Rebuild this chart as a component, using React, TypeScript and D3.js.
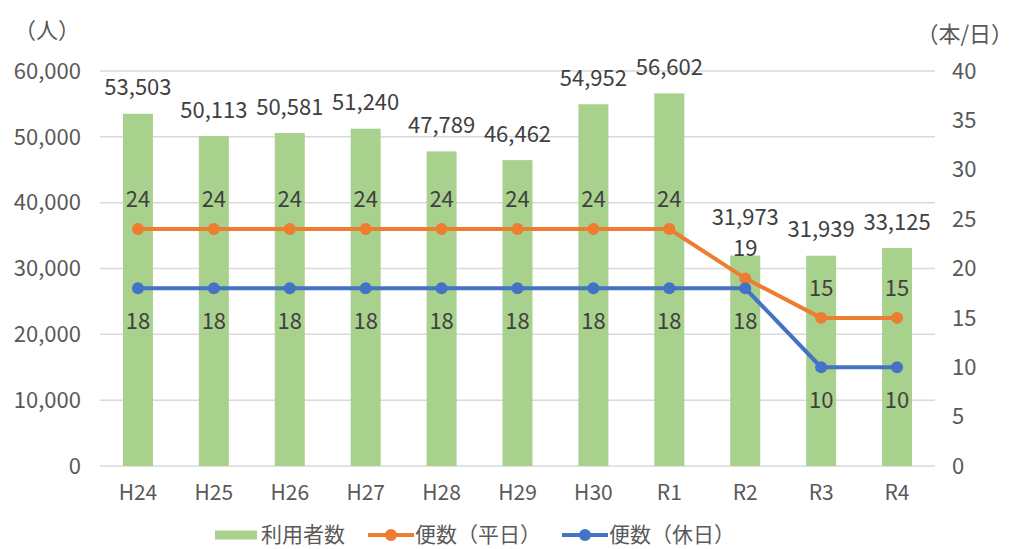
import React, { useEffect, useRef } from 'react'
import * as d3 from 'd3'

// fiscal years
const categories = ['H24', 'H25', 'H26', 'H27', 'H28', 'H29', 'H30', 'R1', 'R2', 'R3', 'R4']
// 利用者数 (people)
const riders = [53503, 50113, 50581, 51240, 47789, 46462, 54952, 56602, 31973, 31939, 33125]
// 便数 per day
const weekday = [24, 24, 24, 24, 24, 24, 24, 24, 19, 15, 15]
const holiday = [18, 18, 18, 18, 18, 18, 18, 18, 18, 10, 10]

const leftTicks = [0, 10000, 20000, 30000, 40000, 50000, 60000]
const rightTicks = [0, 5, 10, 15, 20, 25, 30, 35, 40]

const W = 1014
const H = 549
const FONT = '"Noto Sans CJK JP", "Noto Sans", sans-serif'
const TEXT = '#595959'
const LABEL = '#404040'
const GREEN = '#A9D18E'
const ORANGE = '#ED7D31'
const BLUE = '#4472C4'

const App = () => {
  const ref = useRef<SVGSVGElement>(null)

  useEffect(() => {
    const svg = d3.select(ref.current)
    svg.selectAll('*').remove()

    const left = 100
    const right = 935
    const top = 71
    const bottom = 466

    const x = d3.scaleBand().domain(categories).range([left, right])
    const yL = d3.scaleLinear().domain([0, 60000]).range([bottom, top])
    const yR = d3.scaleLinear().domain([0, 40]).range([bottom, top])
    const cx = (c: string) => (x(c) as number) + x.bandwidth() / 2
    const fmt = d3.format(',')
    const barW = 30

    // gridlines
    svg.append('g')
      .selectAll('line')
      .data(leftTicks)
      .join('line')
      .attr('x1', left)
      .attr('x2', right)
      .attr('y1', d => yL(d))
      .attr('y2', d => yL(d))
      .attr('stroke', '#d9d9d9')
      .attr('stroke-width', 1.5)

    // left axis labels
    svg.append('g')
      .selectAll('text')
      .data(leftTicks)
      .join('text')
      .attr('x', 81)
      .attr('y', d => yL(d))
      .attr('dy', '0.35em')
      .attr('text-anchor', 'end')
      .attr('fill', TEXT)
      .attr('font-size', 22)
      .text(d => fmt(d))

    // right axis labels
    svg.append('g')
      .selectAll('text')
      .data(rightTicks)
      .join('text')
      .attr('x', 952)
      .attr('y', d => yR(d))
      .attr('dy', '0.35em')
      .attr('text-anchor', 'start')
      .attr('fill', TEXT)
      .attr('font-size', 22)
      .text(d => d)

    // unit labels
    svg.append('text').attr('x', 14).attr('y', 38).attr('fill', TEXT).attr('font-size', 22).text('（人）')
    svg.append('text').attr('x', 1013).attr('y', 42).attr('text-anchor', 'end').attr('fill', TEXT).attr('font-size', 22).text('（本/日）')

    // category labels
    svg.append('g')
      .selectAll('text')
      .data(categories)
      .join('text')
      .attr('x', d => cx(d))
      .attr('y', 500)
      .attr('text-anchor', 'middle')
      .attr('fill', TEXT)
      .attr('font-size', 21)
      .text(d => d)

    // bars
    svg.append('g')
      .selectAll('rect')
      .data(riders)
      .join('rect')
      .attr('x', (d, i) => cx(categories[i]) - barW / 2)
      .attr('y', d => yL(d))
      .attr('width', barW)
      .attr('height', d => yL(0) - yL(d))
      .attr('fill', GREEN)

    // bar labels sit above the bar, and above the weekday label when they would collide
    svg.append('g')
      .selectAll('text')
      .data(riders)
      .join('text')
      .attr('x', (d, i) => cx(categories[i]))
      .attr('y', (d, i) => Math.min(yL(d) - 26, yR(weekday[i]) - 61))
      .attr('dy', '0.35em')
      .attr('text-anchor', 'middle')
      .attr('fill', LABEL)
      .attr('font-size', 22)
      .text(d => fmt(d))

    const drawLine = (vals: number[], color: string, off: number) => {
      const line = d3.line<number>()
        .x((d, i) => cx(categories[i]))
        .y(d => yR(d))
      svg.append('path')
        .datum(vals)
        .attr('d', line)
        .attr('fill', 'none')
        .attr('stroke', color)
        .attr('stroke-width', 4)
        .attr('stroke-linejoin', 'round')
      svg.append('g')
        .selectAll('circle')
        .data(vals)
        .join('circle')
        .attr('cx', (d, i) => cx(categories[i]))
        .attr('cy', d => yR(d))
        .attr('r', 6)
        .attr('fill', color)
      svg.append('g')
        .selectAll('text')
        .data(vals)
        .join('text')
        .attr('x', (d, i) => cx(categories[i]))
        .attr('y', d => yR(d) + off)
        .attr('dy', '0.35em')
        .attr('text-anchor', 'middle')
        .attr('fill', LABEL)
        .attr('font-size', 22)
        .text(d => d)
    }
    drawLine(weekday, ORANGE, -30)
    drawLine(holiday, BLUE, 33)

    // legend
    const ly = 535
    const lg = svg.append('g').attr('font-size', 21).attr('fill', TEXT)
    lg.append('rect').attr('x', 215).attr('y', ly - 4.5).attr('width', 42).attr('height', 9).attr('fill', GREEN)
    lg.append('text').attr('x', 261).attr('y', ly).attr('dy', '0.35em').text('利用者数')
    const items: [number, string, string][] = [[368, ORANGE, '便数（平日）'], [562, BLUE, '便数（休日）']]
    items.forEach(([lx, color, label]) => {
      lg.append('line').attr('x1', lx).attr('x2', lx + 46).attr('y1', ly).attr('y2', ly)
        .attr('stroke', color).attr('stroke-width', 4)
      lg.append('circle').attr('cx', lx + 23).attr('cy', ly).attr('r', 6).attr('fill', color)
      lg.append('text').attr('x', lx + 47).attr('y', ly).attr('dy', '0.35em').text(label)
    })
  }, [])

  return (
    <svg
      ref={ref}
      width={W}
      height={H}
      style={{ position: 'absolute', left: 0, top: 0, fontFamily: FONT, background: '#fff' }}
    />
  )
}

export default App
